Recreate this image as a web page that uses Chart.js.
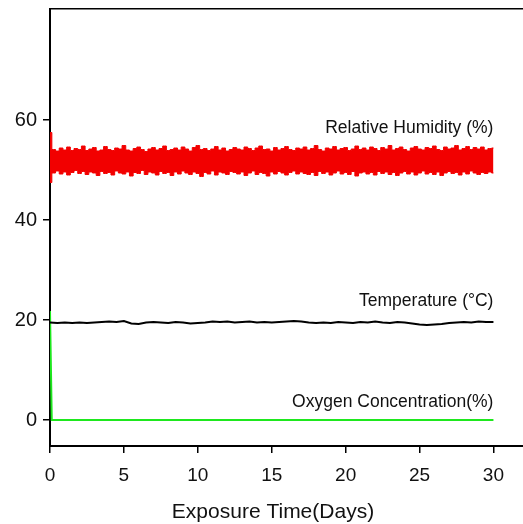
<!DOCTYPE html>
<html>
<head>
<meta charset="utf-8">
<script src="https://cdn.jsdelivr.net/npm/chart.js@4/dist/chart.umd.min.js"></script>
<style>
  html, body { margin: 0; padding: 0; background: #fff; }
  #wrap { width: 523px; height: 524px; }
</style>
</head>
<body>
<div id="wrap"><canvas id="chart"></canvas></div>
<script>
// sampling interval of the logged series, in days
const HUMIDITY_STEP = 0.25;
const TEMPERATURE_STEP = 0.5;

// relative humidity (%) - upper and lower edges of the noisy trace
const humidityHigh = [
  57.5, 54.1, 53.8, 54.4, 54.0, 54.6, 53.9, 54.3, 54.1, 54.8,
  53.9, 54.2, 54.5, 53.8, 54.0, 54.7, 54.1, 53.9, 54.4, 54.2,
  54.9, 54.0, 53.8, 54.3, 54.6, 54.1, 53.7, 54.2, 54.5, 54.0,
  54.3, 54.8, 53.9, 54.1, 54.4, 54.0, 54.6, 54.2, 53.8, 54.5,
  54.9, 54.1, 54.3, 53.9, 54.2, 54.7, 54.0, 54.4, 53.8, 54.1,
  54.5, 54.2, 54.0, 54.6, 54.3, 53.9, 54.4, 54.8, 54.1, 54.2,
  53.8, 54.5, 54.0, 54.3, 54.7, 54.1, 53.9, 54.4, 54.2, 54.6,
  54.0, 54.3, 54.9, 54.1, 53.8, 54.4, 54.2, 54.7, 54.0, 54.3,
  54.5, 53.9, 54.2, 54.8, 54.1, 54.4, 54.0, 54.6, 54.3, 53.9,
  54.5, 54.2, 54.9, 54.0, 54.3, 54.6, 54.1, 53.8, 54.4, 54.7,
  54.2, 54.0, 54.5, 54.3, 54.8, 54.1, 53.9, 54.6, 54.2, 54.4,
  54.9, 54.0, 54.3, 54.7, 54.1, 54.5, 54.2, 54.6, 54.0, 54.3,
  54.4
];
const humidityLow = [
  47.5, 49.4, 49.8, 49.2, 49.6, 49.0, 49.5, 49.9, 49.3, 49.7,
  49.1, 49.6, 49.4, 48.9, 49.7, 49.3, 49.5, 49.0, 49.8, 49.4,
  49.2, 49.6, 48.8, 49.5, 49.3, 49.9, 49.1, 49.6, 49.4, 49.0,
  49.7, 49.3, 49.5, 48.9, 49.6, 49.2, 49.8, 49.4, 49.1, 49.6,
  49.3, 48.7, 49.5, 49.2, 49.8, 49.0, 49.6, 49.4, 49.1, 49.7,
  49.5, 49.2, 49.6, 48.9, 49.4, 49.8, 49.1, 49.5, 49.3, 48.8,
  49.6, 49.2, 49.7, 49.4, 49.0, 49.5, 49.8, 49.2, 49.6, 49.3,
  49.1, 49.5, 48.9, 49.7, 49.3, 49.6, 49.0, 49.4, 49.8, 49.2,
  49.5, 49.1, 49.7, 48.8, 49.4, 49.6, 49.2, 49.5, 49.0, 49.7,
  49.3, 49.6, 49.1, 49.5, 48.9, 49.4, 49.7, 49.2, 49.6, 49.0,
  49.4, 49.8, 49.2, 49.5, 49.1, 49.6, 48.9, 49.4, 49.7, 49.3,
  49.5, 49.0, 49.6, 49.2, 49.8, 49.4, 49.1, 49.5, 49.3, 49.6,
  49.4
];

// temperature (°C)
const temperature = [
  19.5, 19.4, 19.5, 19.4, 19.5, 19.4, 19.5, 19.6, 19.7, 19.6,
  19.8, 19.3, 19.2, 19.5, 19.6, 19.5, 19.4, 19.6, 19.5, 19.3,
  19.4, 19.5, 19.7, 19.6, 19.7, 19.5, 19.6, 19.7, 19.5, 19.6,
  19.5, 19.6, 19.7, 19.8, 19.7, 19.5, 19.4, 19.5, 19.4, 19.6,
  19.5, 19.4, 19.6, 19.5, 19.7, 19.5, 19.4, 19.6, 19.5, 19.3,
  19.1, 19.0, 19.1, 19.2, 19.4, 19.5, 19.6, 19.5, 19.7, 19.6,
  19.6
];

// oxygen concentration (%)
const oxygenDays = [0, 0.12, 30];
const oxygen = [21.8, 0, 0];

const seriesNames = ['Relative Humidity (%)', 'Temperature (°C)', 'Oxygen Concentration(%)'];
const xTickValues = [0, 5, 10, 15, 20, 25, 30];
const yTickValues = [0, 20, 40, 60];
const xTitle = 'Exposure Time(Days)';

const FONT = "'Liberation Sans', Arial, sans-serif";

function stepped(values, step) {
  return values.map((v, i) => ({ x: i * step, y: v }));
}

// series names written next to the traces, right aligned on day 30
const seriesTags = {
  id: 'seriesTags',
  afterDatasetsDraw(chart) {
    const { ctx, scales: { x, y } } = chart;
    const anchors = [58.4, 23.8, 3.6];
    ctx.save();
    ctx.font = '17.5px ' + FONT;
    ctx.fillStyle = '#111';
    ctx.textAlign = 'right';
    ctx.textBaseline = 'middle';
    seriesNames.forEach((name, i) => {
      ctx.fillText(name, x.getPixelForValue(30), y.getPixelForValue(anchors[i]));
    });
    ctx.restore();
  }
};

// x axis caption, sits a little left of the axis centre in the original
const axisCaption = {
  id: 'axisCaption',
  afterDraw(chart) {
    const { ctx } = chart;
    ctx.save();
    ctx.font = '21px ' + FONT;
    ctx.fillStyle = '#111';
    ctx.textAlign = 'center';
    ctx.textBaseline = 'middle';
    ctx.fillText(xTitle, 273, 512);
    ctx.restore();
  }
};

const keepTicks = (list) => (scale) => {
  scale.ticks = list.map(v => ({ value: v }));
};

const noEdgePadding = (s) => {
  s.paddingTop = 0;
  s.paddingBottom = 0;
  s.paddingLeft = 0;
  s.paddingRight = 0;
};

new Chart(document.getElementById('chart'), {
  type: 'line',
  data: {
    datasets: [
      {
        data: stepped(humidityHigh, HUMIDITY_STEP),
        borderColor: '#f20000',
        backgroundColor: '#f20000',
        borderWidth: 1,
        stepped: 'middle',
        fill: '+1'
      },
      {
        data: stepped(humidityLow, HUMIDITY_STEP),
        borderColor: '#f20000',
        borderWidth: 1,
        stepped: 'middle',
        fill: false
      },
      {
        data: stepped(temperature, TEMPERATURE_STEP),
        borderColor: '#000',
        borderWidth: 2,
        fill: false
      },
      {
        data: oxygenDays.map((d, i) => ({ x: d, y: oxygen[i] })),
        borderColor: '#1ee81e',
        borderWidth: 2,
        fill: false
      }
    ]
  },
  options: {
    responsive: true,
    maintainAspectRatio: false,
    animation: false,
    events: [],
    layout: { padding: { top: 9, left: 0, right: 0, bottom: 0 } },
    elements: { point: { radius: 0 }, line: { tension: 0 } },
    plugins: { legend: { display: false }, tooltip: { enabled: false } },
    scales: {
      x: {
        type: 'linear',
        min: 0,
        max: 32,
        afterBuildTicks: keepTicks(xTickValues),
        afterFit: (s) => { s.height = 78; noEdgePadding(s); },
        grid: { display: true, drawOnChartArea: false, drawTicks: true, tickLength: 7, color: '#000', lineWidth: 1.5 },
        border: { display: true, color: '#000', width: 2 },
        ticks: { color: '#111', padding: 11, maxRotation: 0, font: { family: FONT, size: 19 } }
      },
      xTop: {
        type: 'linear',
        position: 'top',
        min: 0,
        max: 32,
        afterFit: (s) => { s.height = 0; noEdgePadding(s); },
        grid: { display: false },
        border: { display: true, color: '#000', width: 1.5 },
        ticks: { display: false }
      },
      y: {
        type: 'linear',
        min: -5.2,
        max: 82.2,
        afterBuildTicks: keepTicks(yTickValues),
        afterFit: (s) => { s.width = 50; noEdgePadding(s); },
        grid: { display: true, drawOnChartArea: false, drawTicks: true, tickLength: 7, color: '#000', lineWidth: 1.5 },
        border: { display: true, color: '#000', width: 2 },
        ticks: { color: '#111', padding: 6, font: { family: FONT, size: 20 } }
      }
    }
  },
  plugins: [seriesTags, axisCaption]
});
</script>
</body>
</html>
